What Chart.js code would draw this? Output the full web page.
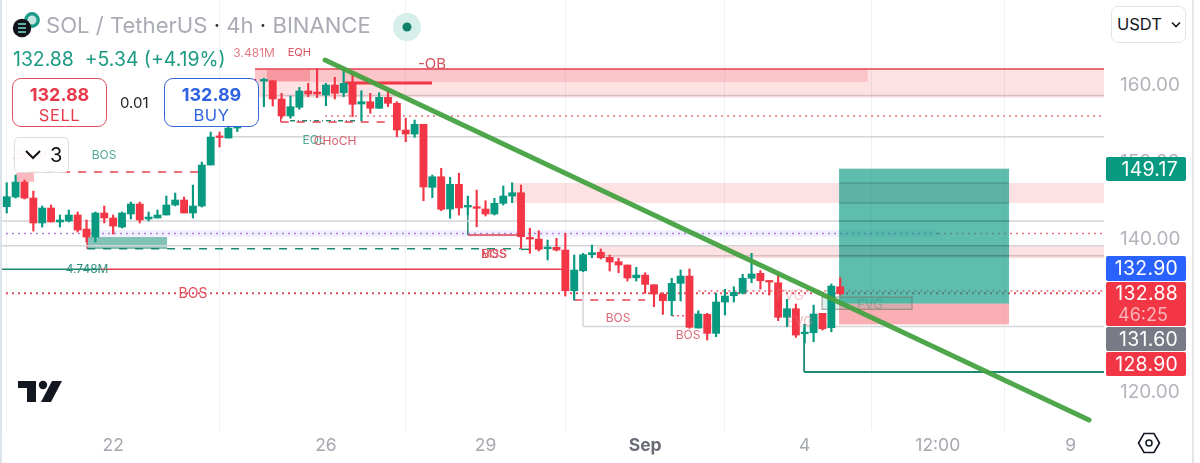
<!DOCTYPE html>
<html><head><meta charset="utf-8">
<script src="https://cdn.jsdelivr.net/npm/chart.js@4"></script>
<style>
html,body{margin:0;padding:0;background:#fff;width:1200px;height:463px;overflow:hidden;font-family:Inter,"Noto Sans",sans-serif}
#wrap{position:relative;width:1200px;height:463px}
canvas{position:absolute;left:0;top:0}
.a{position:absolute;white-space:nowrap}
.tag{position:absolute;left:1106px;width:80px;color:#fff;font-size:19.4px;text-align:right;box-sizing:border-box;padding-right:8px;border-radius:2px;letter-spacing:.3px}
.btn{position:absolute;top:78px;width:95px;height:49px;box-sizing:border-box;background:#fff;border-radius:9px;text-align:center;border:1.5px solid}
.btn b{display:block;font-size:18px;line-height:19px;margin-top:6px;font-weight:700}
.btn span{display:block;font-size:16.5px;line-height:20px;margin-top:1px;letter-spacing:.6px}
</style></head><body>
<div id="wrap">
<canvas id="c" width="1200" height="463"></canvas>
<div class="a" style="left:0;top:0;width:1.5px;height:463px;background:#dde3ea"></div>
<div class="a" style="left:1192px;top:0;width:1.5px;height:463px;background:#e4e6ea"></div>

<svg class="a" style="left:10px;top:8px" width="36" height="36" viewBox="0 0 36 36">
<circle cx="22" cy="12" r="6.2" fill="#c4e8e1" stroke="#1d9a88" stroke-width="3.4"/>
<circle cx="12" cy="20" r="9.2" fill="#111318"/>
<path d="M8 16h8M8 20h8M8 24h8" stroke="#7ae0d0" stroke-width="1.6"/>
</svg>
<div class="a" style="left:46px;top:9px;font-size:22.1px;line-height:32px;color:#a9acb4">SOL / TetherUS <span style="color:#333">·</span> 4h <span style="color:#333">·</span> BINANCE</div>
<svg class="a" style="left:392px;top:12px" width="30" height="30"><circle cx="15" cy="15" r="14" fill="#d6efea"/><circle cx="15" cy="15" r="4.5" fill="#13806e"/></svg>
<div class="a" style="left:13px;top:47px;font-size:19.4px;line-height:24px;color:#1a9a82">132.88&nbsp; +5.34 (+4.19%)</div>

<div class="btn" style="left:12px;border-color:#e2515e;color:#e8394a"><b>132.88</b><span>SELL</span></div>
<div class="a" style="left:120px;top:93px;font-size:15px;line-height:20px;color:#222">0.01</div>
<div class="btn" style="left:164px;border-color:#3566d6;color:#2f62e0"><b>132.89</b><span>BUY</span></div>

<div class="a" style="left:14px;top:137px;width:55px;height:36px;box-sizing:border-box;border:1.5px solid #ddd;border-radius:5px;background:rgba(255,255,255,.85)">
<svg style="position:absolute;left:9px;top:11px" width="18" height="12"><path d="M2 2l7 7 7-7" fill="none" stroke="#111" stroke-width="2"/></svg>
<span style="position:absolute;left:35px;top:4px;font-size:20px;line-height:26px;color:#111">3</span></div>

<svg class="a" style="left:17px;top:379px" width="46" height="24" viewBox="0 0 46 24">
<path d="M1 2h18v21h-9V9H1z" fill="#131722"/><circle cx="26" cy="6" r="4.2" fill="#131722"/><path d="M35 2h10L34 23H24z" fill="#131722"/></svg>

<div class="a" style="left:1111px;top:6px;width:75px;height:37px;box-sizing:border-box;border:1.5px solid #e0e3e8;border-radius:7px;background:#fff">
<span style="position:absolute;left:5px;top:6px;font-size:16.5px;line-height:22px;color:#131722">USDT</span>
<svg style="position:absolute;left:59px;top:14px" width="10" height="8"><path d="M1 1.5l4 4 4-4" fill="none" stroke="#131722" stroke-width="1.6"/></svg></div>

<div class="tag" style="top:157px;height:24px;line-height:24px;background:#089981">149.17</div>
<div class="tag" style="top:256px;height:25px;line-height:25px;background:#2962ff">132.90</div>
<div class="tag" style="top:282px;height:44px;line-height:21px;background:#f23645;padding-top:1px">132.88<br><span style="display:block;text-align:left;padding-left:12px;color:#f8b3b9;font-size:18px;letter-spacing:0">46:25</span></div>
<div class="tag" style="top:327px;height:24px;line-height:24px;background:#787b86">131.60</div>
<div class="tag" style="top:352px;height:24px;line-height:24px;background:#f23645">128.90</div>

<svg class="a" style="left:1137px;top:432px" width="24" height="22" viewBox="0 0 24 22">
<path d="M7 1.5h10L22.5 11 17 20.5H7L1.5 11z" fill="none" stroke="#131722" stroke-width="1.6"/><circle cx="12" cy="11" r="3" fill="none" stroke="#131722" stroke-width="1.5"/></svg>
</div>
<script>
// Candle values (USDT)
const opens=[144.22,145.48,147.43,145.35,142.10,144.05,142.23,142.36,143.14,141.31,140.27,143.40,142.75,141.57,143.27,144.57,142.62,142.75,143.14,144.44,145.09,143.40,144.31,149.65,153.36,153.16,154.46,156.40,159.10,160.58,160.62,158.24,156.03,157.16,159.28,159.15,158.76,160.06,159.06,160.41,157.59,157.89,157.03,158.46,157.68,154.20,153.68,154.95,146.74,148.12,143.92,147.13,144.18,144.22,143.92,143.27,144.66,145.61,146.04,140.18,140.01,138.75,138.93,138.58,133.28,135.88,137.97,138.28,137.63,137.06,136.63,134.97,135.32,134.06,132.81,131.98,134.24,135.19,128.42,130.21,127.73,131.81,132.63,132.98,134.90,135.55,134.58,134.32,129.82,130.94,127.68,127.81,130.34,128.46,133.80];
const highs=[147.34,148.34,147.69,146.26,144.31,144.44,143.14,143.79,143.53,142.49,143.53,144.31,143.14,143.53,144.83,144.83,143.53,143.79,145.61,146.00,145.48,147.04,150.04,153.94,153.94,154.85,157.00,159.80,160.80,160.94,160.62,158.98,158.63,159.76,160.28,162.15,160.28,161.07,161.92,161.59,159.32,158.98,159.06,159.50,157.89,155.73,155.51,154.95,148.34,149.22,148.05,148.57,145.61,146.39,145.00,145.31,146.91,147.34,147.04,141.41,141.09,139.88,140.10,140.75,137.93,138.15,139.23,138.71,137.93,137.50,136.63,136.33,135.62,134.06,133.02,134.90,135.98,136.11,130.68,130.34,132.94,133.46,133.80,135.42,138.15,135.89,134.58,135.32,132.16,131.55,128.91,131.42,130.34,134.15,134.97];
const lows=[143.40,145.35,145.22,141.05,141.57,142.23,141.57,142.23,140.92,139.62,139.62,142.10,140.66,141.44,142.62,142.10,142.36,142.75,143.14,144.31,143.40,142.75,144.18,149.65,151.99,153.16,154.00,155.90,158.20,157.24,157.33,155.73,155.73,156.90,158.54,158.41,157.37,158.24,158.54,155.94,155.41,156.38,157.03,157.24,153.33,152.68,153.25,145.00,145.39,143.70,142.71,143.14,143.14,141.61,143.01,143.14,144.44,144.74,138.80,138.15,138.45,137.28,138.45,132.59,132.07,135.75,137.58,137.41,135.85,135.62,134.54,134.54,132.94,131.20,130.21,130.03,131.94,128.39,128.42,126.86,127.29,130.12,131.81,132.85,134.32,133.50,132.72,129.38,128.59,127.21,126.47,126.64,128.16,127.94,132.72];
const closes=[145.52,147.43,145.35,142.10,144.05,142.23,142.49,143.14,141.18,140.27,143.40,142.75,141.70,143.40,144.57,142.49,142.88,143.14,144.44,145.09,143.40,144.31,149.65,153.29,153.23,154.46,156.40,159.10,158.90,160.71,158.24,156.03,157.24,159.28,158.89,158.89,160.06,158.98,160.28,157.55,157.89,157.03,158.46,157.68,154.20,153.68,154.95,146.78,148.12,143.88,147.13,144.05,144.31,144.01,143.27,144.66,145.61,146.04,140.31,140.01,138.67,138.93,138.58,133.28,135.98,137.97,138.23,137.58,137.02,136.63,134.93,135.32,134.11,132.85,131.98,134.24,135.19,128.52,130.25,127.73,131.81,132.59,133.07,134.90,135.46,134.58,134.41,129.82,130.94,127.51,127.81,130.25,128.33,133.89,132.88];

// Axis labels and their bar positions
const xTickPos=[12,36,54,72,90,105,120];
const xTickText=['22','26','29','Sep','4','12:00','9'];
const yTickVals=[160,150,140,130,120];

const UP='#089981',DN='#f23645';
const RED='#e5404f',GREY='#d4d5d9',TEAL='#1e8a72';

// Zones behind the structure lines: bar-index from/to, price top/bottom, fill
const zoneX0=[28.0,28.0,29.35,57.1,66.6,10.5,9.06,1.05];
const zoneX1=[123.75,97.1,34.2,123.75,123.75,105.03,18.08,3.08];
const zoneP0=[162.15,162.15,162.02,147.30,139.23,141.18,140.27,148.61];
const zoneP1=[158.44,160.45,160.58,144.70,137.50,140.31,138.71,147.47];
const zoneFill=['rgba(242,54,69,.15)','rgba(242,54,69,.17)','rgba(242,54,69,.30)','rgba(242,54,69,.15)','rgba(242,54,69,.15)','rgba(120,120,240,.12)','rgba(8,133,110,.50)','rgba(242,54,69,.35)'];

// Position tool boxes, drawn over the structure lines
const posX0=[93.87,93.87,91.95];
const posX1=[113.04,113.04,102.1];
const posP0=[149.17,131.60,132.46];
const posP1=[131.60,128.90,130.86];
const posFill=['rgba(8,153,129,.65)','rgba(242,54,69,.40)','rgba(8,153,129,.15)'];
const posEdge=[null,null,'rgba(120,110,100,.6)'];
// Levels that show through the position box, as price values
const throughP=[142.36,139.14,137.84,147.30,144.70];

// Lines: x0,x1,p0,p1,colour,width,dash
const lineX0=[28.0,28.8,38.15,35.9,30.9,30.9,31.95,25.4,2.63,-0.76,-0.76,-0.76,-0.76,66.6,9.06,9.06,-0.76,10.5,-0.76,78,52.0,52.0,58.0,58.0,65.0,65.0,64.0,64.0,75.03,89.93,89.93,105.03];
const lineX1=[123.75,123.75,47.96,123.75,42.9,30.9,39.3,123.75,21.6,123.75,123.75,105.03,123.75,123.75,9.06,57.9,10.5,62.6,123.75,123.75,52.0,57.9,58.0,59.0,65.0,123.75,64.0,72,76.7,89.93,123.75,123.75];
const lineP0=[162.15,158.70,160.32,156.03,155.25,156.03,155.41,153.33,148.74,142.36,139.14,140.73,132.94,137.84,140.92,138.75,136.07,136.07,132.94,133.24,145.61,140.53,140.53,138.67,135.71,128.62,133.37,132.07,130.03,128.94,122.70,140.73];
const lineP1=[162.15,158.70,160.32,156.03,155.25,155.25,155.41,153.33,148.74,142.36,139.14,140.73,132.94,137.84,138.75,138.75,136.07,136.07,132.94,133.24,140.53,140.53,138.67,138.67,128.62,128.62,132.07,132.07,130.03,122.70,122.70,140.73];
const lineCol=[RED,'rgba(150,120,125,.35)',DN,'rgba(230,90,100,.85)',RED,RED,TEAL,GREY,RED,GREY,GREY,'rgba(160,100,200,.8)','rgba(225,70,85,.9)','rgba(150,120,125,.35)',RED,TEAL,TEAL,RED,'rgba(225,70,85,.9)','rgba(225,70,85,.8)',TEAL,RED,TEAL,TEAL,GREY,GREY,RED,RED,'rgba(225,70,85,.9)',TEAL,TEAL,'rgba(225,70,85,.75)'];
const lineW=[1.5,1.5,3,1.5,1.5,1.5,1.5,1.5,1.5,1.5,1.5,1.5,1.6,1.5,1.5,1.5,1.6,1.6,1.5,1.5,1.5,1.5,1.5,1.5,1.5,1.5,1.5,1.5,1.5,1.8,1.8,1.5];
const lineDash=[[],[],[],[2,4],[8,8],[],[5,3,1,3],[],[8,8],[],[],[2,4],[2,4],[],[],[8,8],[],[],[2,4],[2,4],[],[],[],[],[],[],[],[8,8],[2,3],[],[],[2,4]];

// Trend line end points
const trendX=[35.9,122.06];
const trendP=[163.32,116.45];

// Chart annotations
const noteText=['3.481M','EQH','-OB','.587M','BOS','EQL','CHoCH','MSS','BOS','4.748M','BOS','BOS','BOS','FVG','FVG','FVG'];
const noteX=[27.9,33.0,47.96,2.6,10.97,34.66,37.03,54.96,54.96,9.06,21.01,68.94,76.84,88.34,89.47,97.36];
const noteP=[164.23,164.23,162.80,150.95,150.95,152.90,152.77,138.06,138.06,136.11,132.85,129.73,127.51,132.59,129.21,131.42];
const noteCol=['#e57c85','#d9525f','#d9525f','#f0b0b5','#4fa898','#4fa898','#d9626d','#d9525f','#d9525f','#2f8f7d','#e5505d','#dd6b75','#dd6b75','rgba(230,120,130,.4)','rgba(230,120,130,.5)','rgba(60,130,110,.35)'];
const noteSize=[12,11,15,12,12,12,12,12,12,12,14,12,12,14,13,13];

const idx=opens.map((_,i)=>i);
const colors=idx.map(i=>closes[i]>opens[i]?UP:DN);

const lineSets=lineX0.map((x,k)=>({type:'line',order:10,data:[{x:x,y:lineP0[k]},{x:lineX1[k],y:lineP1[k]}],borderColor:lineCol[k],borderWidth:lineW[k],borderDash:lineDash[k],pointRadius:0,tension:0}));
const throughSets=throughP.map(p=>({type:'line',order:2.5,data:[{x:posX0[0],y:p},{x:posX1[0],y:p}],borderColor:'rgba(40,80,75,.28)',borderWidth:1.5,pointRadius:0,tension:0}));

function drawBoxes(ch,x0,x1,p0,p1,fill,edge){
 const {ctx,scales:{x,y}}=ch;ctx.save();
 ctx.beginPath();ctx.rect(ch.chartArea.left,ch.chartArea.top,ch.chartArea.width,ch.chartArea.height);ctx.clip();
 x0.forEach((v,k)=>{
  const l=x.getPixelForValue(v),r=x.getPixelForValue(x1[k]),t=y.getPixelForValue(p0[k]),b=y.getPixelForValue(p1[k]);
  ctx.fillStyle=fill[k];ctx.fillRect(l,t,r-l,b-t);
  if(edge&&edge[k]){ctx.strokeStyle=edge[k];ctx.lineWidth=1.2;ctx.strokeRect(l,t,r-l,b-t);}
 });
 ctx.restore();
}

const overlay={id:'overlay',
 beforeDatasetsDraw(ch){drawBoxes(ch,zoneX0,zoneX1,zoneP0,zoneP1,zoneFill,null);},
 beforeDatasetDraw(ch,args){
  if(ch.data.datasets[args.index].label==='Wick')drawBoxes(ch,posX0,posX1,posP0,posP1,posFill,posEdge);
 },
 afterDatasetsDraw(ch){
  const {ctx,scales:{x,y}}=ch;ctx.save();ctx.textAlign='center';ctx.textBaseline='middle';
  noteText.forEach((s,k)=>{ctx.font=noteSize[k]+'px Inter, "Noto Sans", sans-serif';ctx.fillStyle=noteCol[k];ctx.fillText(s,x.getPixelForValue(noteX[k]),y.getPixelForValue(noteP[k]));});
  ctx.restore();
 }};

new Chart(document.getElementById('c'),{
 type:'bar',
 data:{datasets:[
  {label:'Trend',type:'line',order:0,data:trendX.map((v,k)=>({x:v,y:trendP[k]})),borderColor:'rgba(70,162,66,.95)',borderWidth:5,pointRadius:0,borderCapStyle:'round',tension:0},
  {label:'Body',order:2,data:idx.map(i=>({x:i,y:[opens[i],closes[i]]})),backgroundColor:colors,barThickness:7.2,minBarLength:1.6,grouped:false,borderSkipped:false,borderWidth:0},
  {label:'Wick',order:3,data:idx.map(i=>({x:i,y:[lows[i],highs[i]]})),backgroundColor:colors,barThickness:1.5,grouped:false,borderSkipped:false,borderWidth:0},
  ...throughSets,
  ...lineSets
 ]},
 options:{responsive:false,animation:false,devicePixelRatio:1,
  layout:{padding:0},
  plugins:{legend:{display:false},tooltip:{enabled:false},title:{display:false}},
  scales:{
   x:{type:'linear',offset:false,min:-0.76,max:123.75,
    afterFit(s){s.height=33;s.paddingLeft=0;s.paddingRight=0;s.paddingTop=0;s.paddingBottom=0;},
    afterBuildTicks(s){s.ticks=xTickPos.map(v=>({value:v}));},
    grid:{color:'rgba(40,50,80,.07)',drawTicks:false},border:{display:false},
    ticks:{autoSkip:false,maxRotation:0,padding:5,
     callback:(v)=>xTickText[xTickPos.indexOf(v)],
     font:(c)=>({family:'Inter',size:17.5,weight:c.tick&&c.tick.value===72?'700':'400'}),
     color:(c)=>c.tick&&c.tick.value===72?'#6a6d78':'#a5a8b0'}},
   y:{type:'linear',position:'right',min:115.15,max:171.13,
    afterFit(s){s.width=96;s.paddingTop=0;s.paddingBottom=0;s.paddingLeft=0;s.paddingRight=0;},
    afterBuildTicks(s){s.ticks=yTickVals.map(v=>({value:v}));},
    grid:{display:false,drawTicks:false},border:{display:false},
    ticks:{padding:16,color:'#b2b5bc',font:{family:'Inter',size:19},callback:(v)=>v.toFixed(2)}}
  }},
 plugins:[overlay]
});
</script>
</body></html>
